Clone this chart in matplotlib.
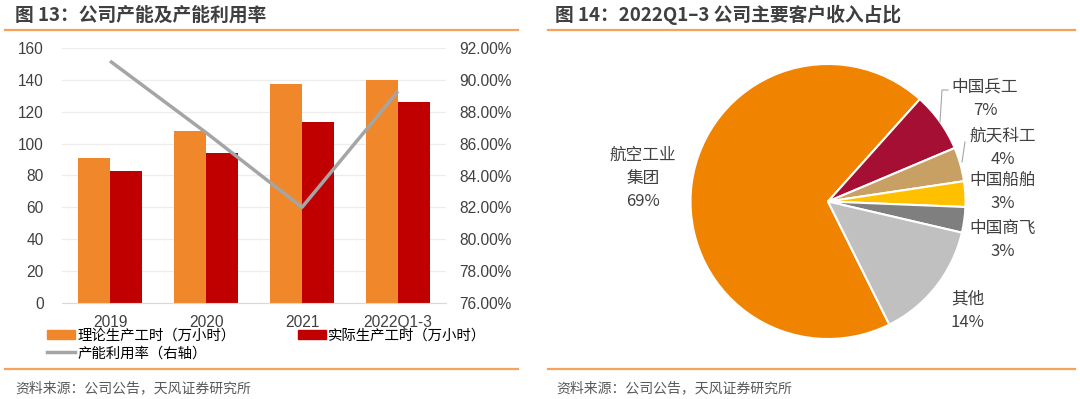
import matplotlib.pyplot as plt
from matplotlib.lines import Line2D
from matplotlib.patches import Patch
import numpy as np

plt.rcParams['font.family'] = ['Liberation Sans', 'Noto Sans CJK SC', 'DejaVu Sans']

# left chart data
years = ['2019', '2020', '2021', '2022Q1-3']
theory_hours = [91, 108, 137.5, 140]      # 理论生产工时（万小时）
actual_hours = [83, 94, 113.5, 126]       # 实际生产工时（万小时）
utilization = [91.2, 86.7, 82.0, 89.3]    # 产能利用率（%）

# right chart data
customers = ['航空工业\n集团', '中国兵工', '航天科工', '中国船舶', '中国商飞', '其他']
shares = [69, 7, 4, 3, 3, 14]
pie_colors = ['#F08300', '#A50F34', '#C9A063', '#FFC000', '#7F7F7F', '#C0C0C0']

W, H = 1080, 399
fig = plt.figure(figsize=(W / 100, H / 100), dpi=100)


def fx(px):
    return px / W


def fy(py):
    return 1 - py / H


cjk = ['Noto Sans CJK SC', 'DejaVu Sans']

# header / footer decoration
line_col = '#F5A25D'
for x0, x1 in [(5, 518), (548, 1075)]:
    fig.add_artist(Line2D([fx(x0), fx(x1)], [fy(30), fy(30)], color=line_col, lw=1.6))
    fig.add_artist(Line2D([fx(x0), fx(x1)], [fy(369), fy(369)], color=line_col, lw=1.6))

fig.text(fx(15), fy(15), '图 13：公司产能及产能利用率', fontsize=13.5, weight='bold',
         color='#3F3F3F', va='center', family=cjk)
fig.text(fx(555), fy(15), '图 14：2022Q1–3 公司主要客户收入占比', fontsize=13.5, weight='bold',
         color='#3F3F3F', va='center', family=cjk)
for x0 in [15, 556]:
    fig.text(fx(x0), fy(388), '资料来源：公司公告，天风证券研究所', fontsize=10,
             color='#595959', va='center', family=cjk)

### bar + line chart
ax = fig.add_axes([fx(62), fy(302.7), fx(446) - fx(62), fy(48.3) - fy(302.7)])
x = np.arange(len(years))
w = 0.336
ax.bar(x - w / 2, theory_hours, w, color='#F0872A', zorder=2)
ax.bar(x + w / 2, actual_hours, w, color='#C00000', zorder=2)
ax.set_xlim(-0.5, len(years) - 0.5)
ax.set_ylim(0, 160)
ax.set_yticks(range(0, 161, 20))
ax.set_xticks(x)
ax.set_xticklabels(years)
ax.grid(axis='y', color='#EDEDED', lw=0.9, zorder=0)
for s in ['top', 'right', 'left']:
    ax.spines[s].set_visible(False)
ax.spines['bottom'].set_color('#D9D9D9')
ax.tick_params(axis='both', length=0, labelsize=11.2, colors='#404040')
ax.tick_params(axis='y', pad=13)
ax.tick_params(axis='x', pad=8.5)

ax2 = ax.twinx()
ax2.plot(x, utilization, color='#A5A5A5', lw=2.5, solid_capstyle='butt')
ax2.set_ylim(76, 92)
ax2.set_yticks(range(76, 93, 2))
ax2.set_yticklabels([f'{v:.2f}%' for v in range(76, 93, 2)])
for s in ['top', 'right', 'left', 'bottom']:
    ax2.spines[s].set_visible(False)
ax2.tick_params(axis='y', length=0, labelsize=11.2, colors='#404040', pad=9.4)

handles = [Patch(color='#F0872A'), Line2D([], [], color='#A5A5A5', lw=2.5), Patch(color='#C00000')]
labels = ['理论生产工时（万小时）', '产能利用率（右轴）', '实际生产工时（万小时）']
fig.legend(handles, labels, loc='upper left', bbox_to_anchor=(fx(47), fy(328.5)), ncol=2,
           frameon=False, handlelength=1.95, handleheight=0.6, handletextpad=0.15,
           columnspacing=4.3, labelspacing=0.25, borderpad=0, borderaxespad=0,
           prop={'family': cjk, 'size': 10.4})

### pie chart
cx, cy, R = 828, 201.5, 137.5
bx0, by0, bx1, by1 = 560, 35, 1070, 365
pax = fig.add_axes([fx(bx0), fy(by1), fx(bx1) - fx(bx0), fy(by0) - fy(by1)])
wedges, texts = pax.pie(shares, colors=pie_colors, startangle=-63.5, counterclock=False,
                        labels=[f'{c}\n{s}%' for c, s in zip(customers, shares)],
                        wedgeprops={'edgecolor': 'white', 'linewidth': 1.5},
                        textprops={'fontsize': 12, 'color': '#404040', 'ha': 'center',
                                   'va': 'center', 'linespacing': 1.5, 'family': cjk,
                                   'clip_on': False})
pax.set_xlim((bx0 - cx) / R, (bx1 - cx) / R)
pax.set_ylim((cy - by1) / R, (cy - by0) / R)

# label positions, pixel space of the reference
label_px = [(643, 178.5), (985, 99), (1003, 148), (1003, 192), (1003, 240), (967.5, 311)]
for t, (px, py) in zip(texts, label_px):
    t.set_position(((px - cx) / R, (cy - py) / R))

# leader lines
for pts in [[(948, 90), (942, 90), (940, 122)], [(965, 142), (962, 162)]]:
    pax.plot([(p[0] - cx) / R for p in pts], [(cy - p[1]) / R for p in pts],
             color='#A6A6A6', lw=0.8)

fig.savefig('out.png', dpi=100)
